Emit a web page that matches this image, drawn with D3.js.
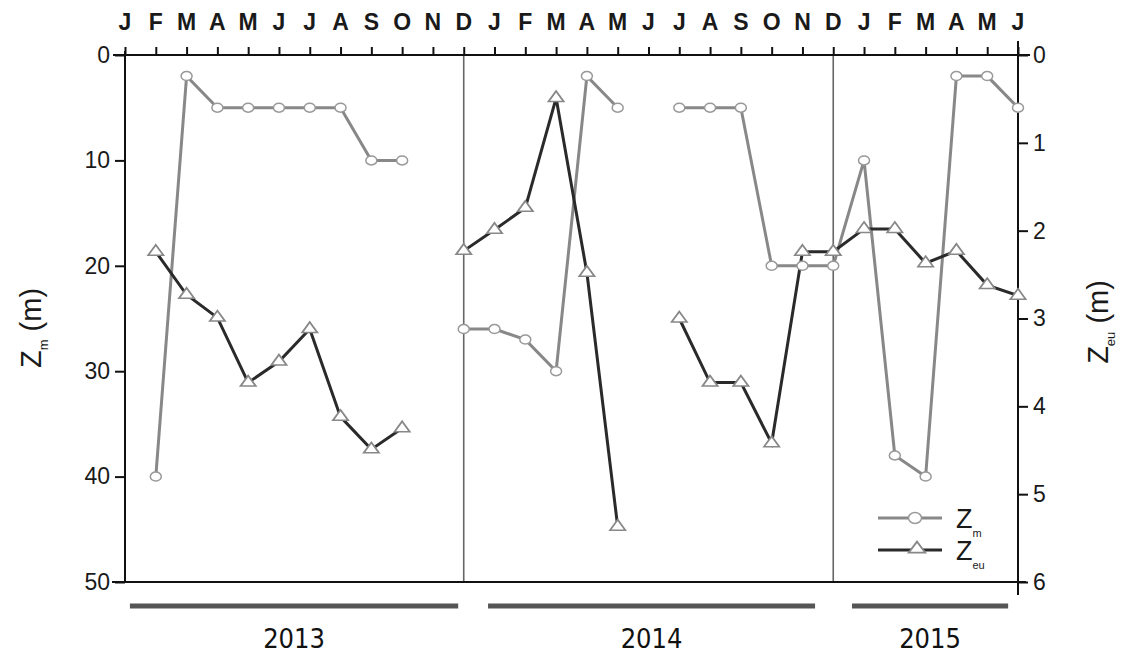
<!DOCTYPE html>
<html><head><meta charset="utf-8">
<script src="https://cdn.jsdelivr.net/npm/d3@7"></script>
<style>
body{margin:0;background:#fff;}
svg{display:block;font-family:Arial,"Liberation Sans",sans-serif;}
</style></head>
<body><svg id="c" width="1126" height="655"></svg>
<script>
// ---- data ----
const monthLabels = ["J","F","M","A","M","J","J","A","S","O","N","D",
                     "J","F","M","A","M","J","J","A","S","O","N","D",
                     "J","F","M","A","M","J"];
const zmValues = [null,40,2,5,5,5,5,5,10,10,null,26,
                  26,27,30,2,5,null,5,5,5,20,20,20,
                  10,38,40,2,2,5];
const zeuValues = [null,2.24,2.73,2.99,3.73,3.49,3.12,4.12,4.49,4.25,null,2.23,
                   1.99,1.74,0.49,2.48,5.37,null,3.0,3.73,3.73,4.42,2.24,2.24,
                   1.98,1.98,2.37,2.23,2.62,2.74];
const leftTicks = [0,10,20,30,40,50];
const rightTicks = [0,1,2,3,4,5,6];
const separators = [11,23];
const years = ["2013","2014","2015"];
const yearStart = [0.16,11.79,23.61];
const yearEnd = [10.82,22.41,28.68];

// ---- layout ----
const svg = d3.select("#c");
const L = 125, R = 1018, T = 55, B = 582;
const x = d3.scaleLinear().domain([0, monthLabels.length-1]).range([L, R]);
const yL = d3.scaleLinear().domain([0,50]).range([T,B]);
const yR = d3.scaleLinear().domain([0,6]).range([T,B]);

// separators
svg.selectAll("line.sep").data(separators).join("line")
  .attr("x1",d=>x(d)).attr("x2",d=>x(d)).attr("y1",T).attr("y2",B)
  .attr("stroke","#666").attr("stroke-width",1.6);

// axes
const topAxis = d3.axisTop(x).tickValues(d3.range(monthLabels.length)).tickSize(8).tickFormat("");
const gT = svg.append("g").attr("transform",`translate(0,${T})`).call(topAxis);
gT.select(".domain").remove();
gT.selectAll(".tick line").attr("stroke","#111").attr("stroke-width",2);
svg.append("line").attr("x1",113).attr("x2",1030).attr("y1",T).attr("y2",T).attr("stroke","#111").attr("stroke-width",2);
svg.append("line").attr("x1",112).attr("x2",1026).attr("y1",B).attr("y2",B).attr("stroke","#111").attr("stroke-width",2);

svg.selectAll("text.mon").data(monthLabels).join("text")
  .attr("x",(d,i)=>x(i)).attr("y",30).attr("text-anchor","middle")
  .attr("font-size",23).attr("font-weight","bold").attr("fill","#1a1a1a").text(d=>d);

const gL = svg.append("g").attr("transform",`translate(${L},0)`)
  .call(d3.axisLeft(yL).tickValues(leftTicks).tickSize(10).tickPadding(5).tickFormat(d3.format("d")));
gL.select(".domain").attr("d",`M0,${T-4}V${B}`).attr("stroke","#111").attr("stroke-width",2);
gL.selectAll(".tick line").attr("stroke","#111").attr("stroke-width",2);
gL.selectAll(".tick text").attr("font-size",23).attr("fill","#1a1a1a").attr("font-family","Arial,'Liberation Sans',sans-serif");

const gR = svg.append("g").attr("transform",`translate(${R},0)`)
  .call(d3.axisRight(yR).tickValues(rightTicks).tickSize(10).tickPadding(5).tickFormat(d3.format("d")));
gR.select(".domain").attr("d",`M0,${T-14}V${B+13}`).attr("stroke","#111").attr("stroke-width",2);
gR.selectAll(".tick line").attr("stroke","#111").attr("stroke-width",2);
gR.selectAll(".tick text").attr("font-size",23).attr("fill","#1a1a1a").attr("font-family","Arial,'Liberation Sans',sans-serif");

// axis titles
function axisTitle(cx, cy, sub){
  const t = svg.append("text").attr("transform",`translate(${cx},${cy}) rotate(-90)`)
    .attr("text-anchor","middle").attr("font-size",29).attr("fill","#1a1a1a");
  t.append("tspan").text("Z");
  t.append("tspan").attr("font-size",13).attr("dy",7).text(sub);
  t.append("tspan").attr("dy",-7).text(" (m)");
}
axisTitle(41, 328, "m");
axisTitle(1108, 322, "eu");

// lines
const lineL = d3.line().defined(d=>d!=null).x((d,i)=>x(i)).y(d=>yL(d));
const lineR = d3.line().defined(d=>d!=null).x((d,i)=>x(i)).y(d=>yR(d));
svg.append("path").attr("d",lineL(zmValues)).attr("fill","none")
  .attr("stroke","#888").attr("stroke-width",3);
svg.append("path").attr("d",lineR(zeuValues)).attr("fill","none")
  .attr("stroke","#2a2a2a").attr("stroke-width",3);

const tri = d3.symbol().type(d3.symbolTriangle).size(70);
function circles(g, data, scale){
  g.selectAll("ellipse").data(data.map((v,i)=>({v,i})).filter(d=>d.v!=null)).join("ellipse")
    .attr("cx",d=>x(d.i)).attr("cy",d=>scale(d.v)).attr("rx",5.5).attr("ry",4.5)
    .attr("fill","#fff").attr("stroke","#999").attr("stroke-width",1.5);
}
function triangles(g, data, scale){
  g.selectAll("path").data(data.map((v,i)=>({v,i})).filter(d=>d.v!=null)).join("path")
    .attr("d",tri).attr("transform",d=>`translate(${x(d.i)},${scale(d.v)}) scale(1.2,0.95)`)
    .attr("fill","#fff").attr("stroke","#888").attr("stroke-width",1.6);
}
triangles(svg.append("g"), zeuValues, yR);
circles(svg.append("g"), zmValues, yL);

// legend
const lg = svg.append("g");
lg.append("line").attr("x1",878).attr("x2",942).attr("y1",518).attr("y2",518).attr("stroke","#888").attr("stroke-width",3);
lg.append("ellipse").attr("cx",915).attr("cy",518).attr("rx",6.5).attr("ry",5.5).attr("fill","#fff").attr("stroke","#999").attr("stroke-width",1.5);
lg.append("line").attr("x1",878).attr("x2",942).attr("y1",550).attr("y2",550).attr("stroke","#2a2a2a").attr("stroke-width",3);
lg.append("path").attr("d",tri).attr("transform","translate(917,549) scale(1.3,1)").attr("fill","#fff").attr("stroke","#888").attr("stroke-width",1.6);
[["m",528],["eu",560]].forEach(([s,yy])=>{
  const t = lg.append("text").attr("x",956).attr("y",yy).attr("font-size",27).attr("fill","#1a1a1a");
  t.append("tspan").text("Z");
  t.append("tspan").attr("font-size",11).attr("dy",9).text(s);
});

// year bars
svg.selectAll("line.yr").data(years).join("line")
  .attr("x1",(d,i)=>x(yearStart[i])).attr("x2",(d,i)=>x(yearEnd[i]))
  .attr("y1",606).attr("y2",606).attr("stroke","#555").attr("stroke-width",5);
svg.selectAll("text.yr").data(years).join("text")
  .attr("x",(d,i)=>(x(yearStart[i])+x(yearEnd[i]))/2).attr("y",648)
  .attr("text-anchor","middle").attr("font-size",27).attr("fill","#111")
  .attr("font-family","'Liberation Sans Narrow','DejaVu Sans Condensed',Arial,sans-serif")
  .text(d=>d);
</script></body></html>
